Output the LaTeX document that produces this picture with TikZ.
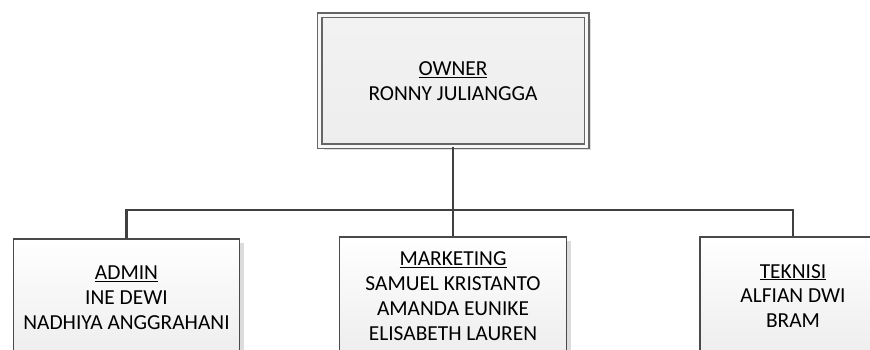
\documentclass[tikz,border=0pt]{standalone}
\usepackage{fontspec}
\setmainfont{Carlito}
\usetikzlibrary{shadows}
\definecolor{edge}{HTML}{4A4A4A}
\definecolor{wire}{HTML}{404040}
\definecolor{shade}{HTML}{DCDCDC}
\begin{document}
\begin{tikzpicture}[x=1pt, y=-1pt,
  orgbox/.style={rectangle, draw=edge, line width=1.1pt,
    top color=white, bottom color=black!7,
    align=center, inner sep=0pt,
    font=\fontsize{21.4}{24.8}\selectfont,
    drop shadow={shadow xshift=4pt, shadow yshift=-4pt, fill=shade, opacity=1}},
  headbox/.style={orgbox, draw=edge!85, line width=1.2pt,
    double=black!3, double distance=3.6pt,
    top color=black!5, bottom color=black!7},
  wireline/.style={draw=wire, line width=2.8pt}]
  \useasboundingbox (0,0) rectangle (870,350);
  \clip (0,0) rectangle (870,350);
  \fill[white] (0,0) rectangle (870,350);

  % top of the chart
  \node[headbox, minimum width=267pt, minimum height=131pt] (owner) at (453,81)
    {\underline{OWNER}\\RONNY JULIANGGA};

  % the three departments
  \node[orgbox, minimum width=226pt, minimum height=118pt] (admin) at (126.5,298)
    {\underline{ADMIN}\\INE DEWI\\NADHIYA ANGGRAHANI};
  \node[orgbox, minimum width=227pt, minimum height=118pt] (marketing) at (453,296)
    {\underline{MARKETING}\\SAMUEL KRISTANTO\\AMANDA EUNIKE\\ELISABETH LAUREN};
  \node[orgbox, minimum width=186pt, minimum height=118pt] (teknisi) at (793,296)
    {\underline{TEKNISI}\\ALFIAN DWI\\BRAM};

  % reporting lines
  \coordinate (bus) at (453,210);
  \draw[wireline] (owner.south) -- (bus);
  \draw[wireline] (admin.north) |- (bus) -| (teknisi.north);
  \draw[wireline] (bus) -- (marketing.north);
\end{tikzpicture}
\end{document}
